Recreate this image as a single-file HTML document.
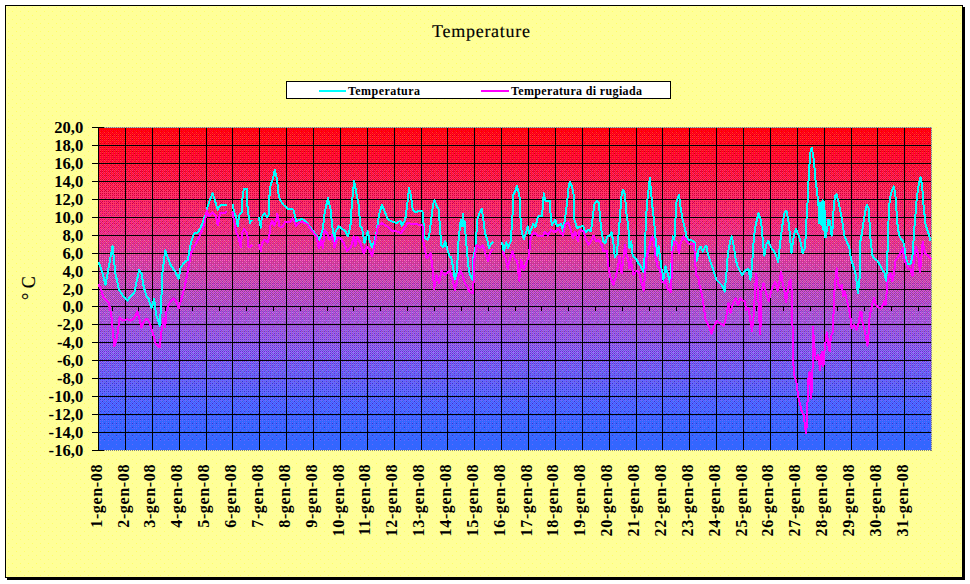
<!DOCTYPE html>
<html><head><meta charset="utf-8"><title>Temperature</title>
<style>html,body{margin:0;padding:0;background:#fff;}body{width:970px;height:584px;overflow:hidden;font-family:"Liberation Serif",serif;}svg{display:block;}text{font-family:"Liberation Serif",serif;fill:#000;}</style>
</head><body>
<svg width="970" height="584" viewBox="0 0 970 584" shape-rendering="crispEdges">
<defs>
<pattern id="dots" x="0" y="7" width="8" height="8" patternUnits="userSpaceOnUse"><rect x="0" y="0" width="1" height="1" fill="#ffff66"/><rect x="4" y="4" width="1" height="1" fill="#ffff66"/></pattern>
<linearGradient id="pg" x1="0" y1="0" x2="0" y2="1">
<stop offset="0.0" stop-color="rgb(255,0,0)"/>
<stop offset="0.003" stop-color="rgb(255,0,2)"/>
<stop offset="0.008" stop-color="rgb(255,3,20)"/>
<stop offset="0.02" stop-color="rgb(253,12,26)"/>
<stop offset="0.09" stop-color="rgb(250,13,48)"/>
<stop offset="0.19" stop-color="rgb(242,33,84)"/>
<stop offset="0.29" stop-color="rgb(237,43,117)"/>
<stop offset="0.4" stop-color="rgb(217,64,158)"/>
<stop offset="0.52" stop-color="rgb(181,77,191)"/>
<stop offset="0.59" stop-color="rgb(163,87,212)"/>
<stop offset="0.685" stop-color="rgb(133,89,230)"/>
<stop offset="0.796" stop-color="rgb(95,95,242)"/>
<stop offset="0.907" stop-color="rgb(64,99,252)"/>
<stop offset="1.0" stop-color="rgb(51,102,255)"/>
</linearGradient>
<pattern id="dither" x="99" y="128" width="8" height="322" patternUnits="userSpaceOnUse">
<path d="M0 0h8v1h-8zM0 1h8v1h-8zM0 2h1v1h-1zM2 2h1v1h-1zM4 2h1v1h-1zM6 2h1v1h-1zM1 3h3v1h-3zM5 3h3v1h-3zM0 4h1v1h-1zM2 4h1v1h-1zM4 4h1v1h-1zM6 4h1v1h-1zM1 5h1v1h-1zM3 5h1v1h-1zM5 5h1v1h-1zM7 5h1v1h-1zM0 6h1v1h-1zM2 6h1v1h-1zM4 6h1v1h-1zM6 6h1v1h-1zM3 7h1v1h-1zM7 7h1v1h-1zM0 8h1v1h-1zM4 8h1v1h-1zM1 9h1v1h-1zM3 9h1v1h-1zM5 9h1v1h-1zM7 9h1v1h-1zM2 10h1v1h-1zM4 10h1v1h-1zM6 10h1v1h-1zM3 11h1v1h-1zM5 11h1v1h-1zM7 11h1v1h-1zM0 12h1v1h-1zM4 12h1v1h-1zM1 13h1v1h-1zM3 13h1v1h-1zM5 13h1v1h-1zM7 13h1v1h-1zM2 14h1v1h-1zM6 14h1v1h-1zM3 15h1v1h-1zM7 15h1v1h-1zM1 17h1v1h-1zM3 17h1v1h-1zM5 17h1v1h-1zM7 17h1v1h-1zM3 19h1v1h-1zM7 19h1v1h-1zM3 21h1v1h-1zM5 21h1v1h-1zM3 23h1v1h-1zM7 23h1v1h-1zM7 25h1v1h-1z" fill="#ff0000"/>
<path d="M1 2h1v1h-1zM3 2h1v1h-1zM5 2h1v1h-1zM7 2h1v1h-1zM0 3h1v1h-1zM4 3h1v1h-1zM3 4h1v1h-1zM7 4h1v1h-1zM0 5h1v1h-1zM2 5h1v1h-1zM4 5h1v1h-1zM6 5h1v1h-1zM5 6h1v1h-1zM0 7h1v1h-1zM2 7h1v1h-1zM4 7h1v1h-1zM6 7h1v1h-1zM2 8h1v1h-1zM6 8h1v1h-1zM0 9h1v1h-1zM2 9h1v1h-1zM4 9h1v1h-1zM6 9h1v1h-1zM0 10h1v1h-1zM0 11h1v1h-1zM2 11h1v1h-1zM4 11h1v1h-1zM6 11h1v1h-1zM2 12h1v1h-1zM6 12h1v1h-1zM0 13h1v1h-1zM2 13h1v1h-1zM4 13h1v1h-1zM6 13h1v1h-1zM0 14h1v1h-1zM4 14h2v1h-2zM0 15h1v1h-1zM2 15h1v1h-1zM4 15h1v1h-1zM6 15h1v1h-1zM0 16h1v1h-1zM2 16h1v1h-1zM4 16h1v1h-1zM6 16h1v1h-1zM0 17h1v1h-1zM2 17h1v1h-1zM4 17h1v1h-1zM6 17h1v1h-1zM0 18h1v1h-1zM2 18h1v1h-1zM4 18h1v1h-1zM6 18h1v1h-1zM0 19h1v1h-1zM2 19h1v1h-1zM4 19h1v1h-1zM6 19h1v1h-1zM0 20h1v1h-1zM2 20h1v1h-1zM4 20h1v1h-1zM6 20h1v1h-1zM0 21h3v1h-3zM4 21h1v1h-1zM6 21h1v1h-1zM0 22h1v1h-1zM2 22h1v1h-1zM4 22h1v1h-1zM6 22h1v1h-1zM0 23h1v1h-1zM2 23h1v1h-1zM4 23h1v1h-1zM6 23h1v1h-1zM0 24h1v1h-1zM2 24h1v1h-1zM4 24h1v1h-1zM6 24h1v1h-1zM0 25h3v1h-3zM4 25h3v1h-3zM0 26h1v1h-1zM2 26h1v1h-1zM4 26h1v1h-1zM6 26h1v1h-1zM0 27h1v1h-1zM2 27h3v1h-3zM6 27h2v1h-2zM0 28h1v1h-1zM2 28h1v1h-1zM4 28h1v1h-1zM6 28h1v1h-1zM0 29h7v1h-7zM0 30h1v1h-1zM2 30h1v1h-1zM4 30h1v1h-1zM6 30h1v1h-1zM0 31h1v1h-1zM2 31h3v1h-3zM6 31h2v1h-2zM0 32h1v1h-1zM2 32h1v1h-1zM4 32h1v1h-1zM6 32h1v1h-1zM0 33h2v1h-2zM4 33h2v1h-2zM0 34h1v1h-1zM2 34h1v1h-1zM4 34h1v1h-1zM6 34h1v1h-1zM2 35h3v1h-3zM6 35h2v1h-2zM0 36h1v1h-1zM2 36h1v1h-1zM4 36h1v1h-1zM6 36h1v1h-1zM0 37h2v1h-2zM4 37h2v1h-2zM0 38h1v1h-1zM2 38h1v1h-1zM4 38h1v1h-1zM6 38h1v1h-1zM2 39h2v1h-2zM6 39h1v1h-1zM0 40h1v1h-1zM2 40h1v1h-1zM4 40h1v1h-1zM6 40h1v1h-1zM1 41h1v1h-1zM4 41h2v1h-2zM0 42h1v1h-1zM2 42h1v1h-1zM4 42h1v1h-1zM6 42h1v1h-1zM2 43h1v1h-1zM6 43h2v1h-2zM0 44h1v1h-1zM2 44h1v1h-1zM4 44h1v1h-1zM6 44h1v1h-1zM1 45h1v1h-1zM5 45h1v1h-1zM0 46h1v1h-1zM2 46h1v1h-1zM4 46h1v1h-1zM6 46h1v1h-1zM6 47h1v1h-1zM0 48h1v1h-1zM2 48h1v1h-1zM4 48h1v1h-1zM6 48h1v1h-1zM1 49h1v1h-1zM5 49h1v1h-1zM0 50h1v1h-1zM2 50h1v1h-1zM4 50h1v1h-1zM6 50h1v1h-1zM0 52h1v1h-1zM4 52h1v1h-1zM6 52h1v1h-1zM1 53h1v1h-1zM0 54h1v1h-1zM2 54h1v1h-1zM4 54h1v1h-1zM6 54h1v1h-1zM0 56h1v1h-1zM4 56h1v1h-1zM5 57h1v1h-1zM2 58h1v1h-1zM6 58h1v1h-1zM0 60h1v1h-1zM4 60h1v1h-1zM2 62h1v1h-1z" fill="#ff0033"/>
<path d="M1 4h1v1h-1zM5 4h1v1h-1zM1 6h1v1h-1zM3 6h1v1h-1zM7 6h1v1h-1zM1 8h1v1h-1zM3 8h1v1h-1zM5 8h1v1h-1zM7 8h1v1h-1zM1 10h1v1h-1zM3 10h1v1h-1zM5 10h1v1h-1zM7 10h1v1h-1zM1 12h1v1h-1zM3 12h1v1h-1zM5 12h1v1h-1zM7 12h1v1h-1zM1 14h1v1h-1zM3 14h1v1h-1zM7 14h1v1h-1zM1 16h1v1h-1zM3 16h1v1h-1zM5 16h1v1h-1zM7 16h1v1h-1zM1 18h1v1h-1zM3 18h1v1h-1zM5 18h1v1h-1zM7 18h1v1h-1zM1 20h1v1h-1zM3 20h1v1h-1zM5 20h1v1h-1zM7 20h1v1h-1zM1 22h1v1h-1zM3 22h1v1h-1zM5 22h1v1h-1zM7 22h1v1h-1zM1 24h1v1h-1zM3 24h1v1h-1zM5 24h1v1h-1zM7 24h1v1h-1zM1 26h1v1h-1zM3 26h1v1h-1zM5 26h1v1h-1zM7 26h1v1h-1zM1 28h1v1h-1zM3 28h1v1h-1zM5 28h1v1h-1zM7 28h1v1h-1zM1 30h1v1h-1zM3 30h1v1h-1zM5 30h1v1h-1zM7 30h1v1h-1zM1 32h1v1h-1zM3 32h1v1h-1zM7 32h1v1h-1zM2 33h1v1h-1zM6 33h1v1h-1zM1 34h1v1h-1zM3 34h1v1h-1zM5 34h1v1h-1zM7 34h1v1h-1zM0 35h1v1h-1zM3 36h1v1h-1zM7 36h1v1h-1zM2 37h1v1h-1zM6 37h1v1h-1zM1 38h1v1h-1zM5 38h1v1h-1zM0 39h1v1h-1zM4 39h1v1h-1zM0 41h1v1h-1zM2 41h1v1h-1zM6 41h1v1h-1zM0 43h1v1h-1zM4 43h1v1h-1zM0 45h1v1h-1zM4 45h1v1h-1zM6 45h1v1h-1zM0 47h1v1h-1zM2 47h1v1h-1zM4 49h1v1h-1zM2 51h1v1h-1zM6 51h1v1h-1zM2 52h1v1h-1zM2 56h1v1h-1zM4 58h1v1h-1z" fill="#ff3333"/>
<path d="M1 7h1v1h-1zM5 7h1v1h-1zM1 11h1v1h-1zM1 15h1v1h-1zM5 15h1v1h-1zM1 19h1v1h-1zM5 19h1v1h-1zM7 21h1v1h-1zM1 23h1v1h-1zM5 23h1v1h-1zM3 25h1v1h-1zM1 27h1v1h-1zM5 27h1v1h-1zM5 31h1v1h-1z" fill="#cc0000"/>
<path d="M7 29h1v1h-1zM1 31h1v1h-1zM3 33h1v1h-1zM7 33h1v1h-1zM1 35h1v1h-1zM5 35h1v1h-1zM3 37h1v1h-1zM7 37h1v1h-1zM1 39h1v1h-1zM5 39h1v1h-1zM7 39h1v1h-1zM3 41h1v1h-1zM7 41h1v1h-1zM1 43h1v1h-1zM3 43h1v1h-1zM5 43h1v1h-1zM3 45h1v1h-1zM7 45h1v1h-1zM1 47h1v1h-1zM3 47h1v1h-1zM5 47h1v1h-1zM7 47h1v1h-1zM3 49h1v1h-1zM7 49h1v1h-1zM1 51h1v1h-1zM3 51h1v1h-1zM5 51h1v1h-1zM7 51h1v1h-1zM3 53h1v1h-1zM5 53h1v1h-1zM7 53h1v1h-1zM1 55h1v1h-1zM3 55h1v1h-1zM5 55h1v1h-1zM7 55h1v1h-1zM1 57h1v1h-1zM3 57h1v1h-1zM7 57h1v1h-1zM1 59h1v1h-1zM3 59h1v1h-1zM5 59h1v1h-1zM7 59h1v1h-1zM1 61h1v1h-1zM3 61h1v1h-1zM5 61h1v1h-1zM7 61h1v1h-1zM6 62h1v1h-1zM1 63h1v1h-1zM3 63h1v1h-1zM5 63h1v1h-1zM7 63h1v1h-1zM1 65h1v1h-1zM3 65h1v1h-1zM5 65h1v1h-1zM7 65h1v1h-1zM1 67h1v1h-1zM3 67h1v1h-1zM5 67h1v1h-1zM7 67h1v1h-1zM3 69h1v1h-1zM7 69h1v1h-1zM1 71h1v1h-1zM5 71h1v1h-1zM7 71h1v1h-1zM3 73h1v1h-1zM1 75h1v1h-1zM5 75h1v1h-1z" fill="#cc0033"/>
<path d="M5 32h1v1h-1zM1 36h1v1h-1zM5 36h1v1h-1zM3 38h1v1h-1zM7 38h1v1h-1zM1 40h1v1h-1zM3 40h1v1h-1zM5 40h1v1h-1zM7 40h1v1h-1zM1 42h1v1h-1zM3 42h1v1h-1zM5 42h1v1h-1zM7 42h1v1h-1zM1 44h1v1h-1zM3 44h1v1h-1zM5 44h1v1h-1zM7 44h1v1h-1zM2 45h1v1h-1zM1 46h1v1h-1zM3 46h1v1h-1zM5 46h1v1h-1zM7 46h1v1h-1zM4 47h1v1h-1zM1 48h1v1h-1zM3 48h1v1h-1zM5 48h1v1h-1zM7 48h1v1h-1zM0 49h1v1h-1zM2 49h1v1h-1zM6 49h1v1h-1zM1 50h1v1h-1zM3 50h1v1h-1zM5 50h1v1h-1zM7 50h1v1h-1zM0 51h1v1h-1zM4 51h1v1h-1zM1 52h1v1h-1zM3 52h1v1h-1zM5 52h1v1h-1zM7 52h1v1h-1zM0 53h1v1h-1zM2 53h1v1h-1zM4 53h1v1h-1zM6 53h1v1h-1zM1 54h1v1h-1zM3 54h1v1h-1zM5 54h1v1h-1zM7 54h1v1h-1zM0 55h1v1h-1zM2 55h1v1h-1zM4 55h1v1h-1zM6 55h1v1h-1zM1 56h1v1h-1zM3 56h1v1h-1zM5 56h3v1h-3zM0 57h1v1h-1zM2 57h1v1h-1zM4 57h1v1h-1zM6 57h1v1h-1zM0 58h2v1h-2zM3 58h1v1h-1zM5 58h1v1h-1zM7 58h1v1h-1zM0 59h1v1h-1zM2 59h1v1h-1zM4 59h1v1h-1zM6 59h1v1h-1zM1 60h3v1h-3zM5 60h3v1h-3zM0 61h1v1h-1zM2 61h1v1h-1zM4 61h1v1h-1zM6 61h1v1h-1zM0 62h2v1h-2zM3 62h3v1h-3zM7 62h1v1h-1zM0 63h1v1h-1zM2 63h1v1h-1zM4 63h1v1h-1zM6 63h1v1h-1zM0 64h8v1h-8zM0 65h1v1h-1zM2 65h1v1h-1zM4 65h1v1h-1zM6 65h1v1h-1zM0 66h2v1h-2zM3 66h3v1h-3zM7 66h1v1h-1zM0 67h1v1h-1zM2 67h1v1h-1zM4 67h1v1h-1zM6 67h1v1h-1zM0 68h8v1h-8zM0 69h1v1h-1zM2 69h1v1h-1zM4 69h1v1h-1zM6 69h1v1h-1zM0 70h2v1h-2zM3 70h3v1h-3zM7 70h1v1h-1zM0 71h1v1h-1zM2 71h1v1h-1zM4 71h1v1h-1zM6 71h1v1h-1zM0 72h8v1h-8zM0 73h1v1h-1zM2 73h1v1h-1zM4 73h1v1h-1zM6 73h1v1h-1zM0 74h2v1h-2zM3 74h5v1h-5zM0 75h1v1h-1zM2 75h1v1h-1zM4 75h1v1h-1zM6 75h1v1h-1zM0 76h8v1h-8zM0 77h1v1h-1zM2 77h1v1h-1zM4 77h1v1h-1zM6 77h1v1h-1zM0 78h2v1h-2zM3 78h3v1h-3zM7 78h1v1h-1zM0 79h1v1h-1zM2 79h1v1h-1zM4 79h1v1h-1zM6 79h1v1h-1zM0 80h5v1h-5zM6 80h2v1h-2zM0 81h1v1h-1zM2 81h1v1h-1zM4 81h1v1h-1zM6 81h1v1h-1zM0 82h2v1h-2zM3 82h3v1h-3zM0 83h1v1h-1zM2 83h1v1h-1zM4 83h1v1h-1zM6 83h1v1h-1zM2 84h3v1h-3zM6 84h2v1h-2zM0 85h1v1h-1zM2 85h1v1h-1zM4 85h1v1h-1zM6 85h1v1h-1zM0 86h2v1h-2zM4 86h2v1h-2zM0 87h1v1h-1zM2 87h1v1h-1zM4 87h1v1h-1zM6 87h1v1h-1zM0 88h1v1h-1zM2 88h1v1h-1zM6 88h1v1h-1zM0 89h1v1h-1zM2 89h1v1h-1zM4 89h1v1h-1zM6 89h1v1h-1zM0 90h1v1h-1zM4 90h1v1h-1zM0 91h1v1h-1zM2 91h1v1h-1zM4 91h1v1h-1zM6 91h1v1h-1zM2 92h1v1h-1zM4 92h1v1h-1zM6 92h1v1h-1zM0 93h1v1h-1zM4 93h1v1h-1zM6 93h1v1h-1zM0 94h1v1h-1zM4 94h1v1h-1zM0 95h1v1h-1zM2 95h1v1h-1zM6 95h1v1h-1zM2 96h1v1h-1zM6 96h1v1h-1zM4 97h1v1h-1zM0 98h1v1h-1zM2 99h1v1h-1zM6 99h1v1h-1zM2 100h1v1h-1zM6 100h1v1h-1z" fill="#ff3366"/>
<path d="M2 66h1v1h-1zM6 66h1v1h-1zM2 70h1v1h-1z" fill="#ff0066"/>
<path d="M1 69h1v1h-1zM5 69h1v1h-1zM6 70h1v1h-1zM3 71h1v1h-1zM1 73h1v1h-1zM5 73h1v1h-1zM7 73h1v1h-1zM2 74h1v1h-1zM3 75h1v1h-1zM7 75h1v1h-1zM1 77h1v1h-1zM3 77h1v1h-1zM5 77h1v1h-1zM7 77h1v1h-1zM1 79h1v1h-1zM3 79h1v1h-1zM5 79h1v1h-1zM7 79h1v1h-1zM1 81h1v1h-1zM3 81h1v1h-1zM7 81h1v1h-1zM1 83h1v1h-1zM3 83h1v1h-1zM5 83h1v1h-1zM7 83h1v1h-1zM3 85h1v1h-1zM5 85h1v1h-1zM7 85h1v1h-1zM1 87h1v1h-1zM3 87h1v1h-1zM5 87h1v1h-1zM7 87h1v1h-1zM3 89h1v1h-1zM7 89h1v1h-1zM1 91h1v1h-1zM3 91h1v1h-1zM5 91h1v1h-1zM3 93h1v1h-1zM7 93h1v1h-1zM1 95h1v1h-1zM5 95h1v1h-1zM7 95h1v1h-1zM3 97h1v1h-1zM1 99h1v1h-1zM5 99h1v1h-1zM1 103h1v1h-1zM5 103h1v1h-1z" fill="#cc0066"/>
<path d="M2 78h1v1h-1zM6 78h1v1h-1zM5 81h1v1h-1zM2 82h1v1h-1zM6 82h1v1h-1zM0 84h1v1h-1zM1 85h1v1h-1zM2 86h1v1h-1zM6 86h1v1h-1zM4 88h1v1h-1zM1 89h1v1h-1zM5 89h1v1h-1zM2 90h1v1h-1zM6 90h1v1h-1zM7 91h1v1h-1zM0 92h1v1h-1zM1 93h1v1h-1zM5 93h1v1h-1zM2 94h1v1h-1zM6 94h1v1h-1zM3 95h1v1h-1zM0 96h1v1h-1zM4 96h1v1h-1zM1 97h1v1h-1zM5 97h1v1h-1zM7 97h1v1h-1zM2 98h1v1h-1zM4 98h1v1h-1zM6 98h1v1h-1zM3 99h1v1h-1zM7 99h1v1h-1zM0 100h1v1h-1zM4 100h1v1h-1zM1 101h1v1h-1zM3 101h1v1h-1zM5 101h1v1h-1zM7 101h1v1h-1zM0 102h1v1h-1zM2 102h1v1h-1zM4 102h1v1h-1zM6 102h1v1h-1zM3 103h1v1h-1zM7 103h1v1h-1zM0 104h1v1h-1zM4 104h1v1h-1zM1 105h1v1h-1zM3 105h1v1h-1zM5 105h1v1h-1zM7 105h1v1h-1zM2 106h1v1h-1zM4 106h1v1h-1zM6 106h1v1h-1zM1 107h1v1h-1zM3 107h1v1h-1zM5 107h1v1h-1zM7 107h1v1h-1zM0 108h1v1h-1zM4 108h1v1h-1zM1 109h1v1h-1zM3 109h1v1h-1zM5 109h1v1h-1zM7 109h1v1h-1zM2 110h1v1h-1zM6 110h1v1h-1zM1 111h1v1h-1zM3 111h1v1h-1zM5 111h1v1h-1zM7 111h1v1h-1zM1 113h1v1h-1zM3 113h1v1h-1zM5 113h1v1h-1zM7 113h1v1h-1zM1 115h1v1h-1zM3 115h1v1h-1zM5 115h1v1h-1zM7 115h1v1h-1zM3 117h1v1h-1zM7 117h1v1h-1zM1 119h1v1h-1zM5 119h1v1h-1zM1 123h1v1h-1z" fill="#cc3366"/>
<path d="M5 80h1v1h-1zM7 82h1v1h-1zM1 84h1v1h-1zM5 84h1v1h-1zM3 86h1v1h-1zM7 86h1v1h-1zM1 88h1v1h-1zM3 88h1v1h-1zM5 88h1v1h-1zM7 88h1v1h-1zM1 90h1v1h-1zM3 90h1v1h-1zM5 90h1v1h-1zM7 90h1v1h-1zM1 92h1v1h-1zM3 92h1v1h-1zM5 92h1v1h-1zM7 92h1v1h-1zM2 93h1v1h-1zM1 94h1v1h-1zM3 94h1v1h-1zM5 94h1v1h-1zM7 94h1v1h-1zM4 95h1v1h-1zM1 96h1v1h-1zM3 96h1v1h-1zM5 96h1v1h-1zM7 96h1v1h-1zM0 97h1v1h-1zM2 97h1v1h-1zM6 97h1v1h-1zM1 98h1v1h-1zM3 98h1v1h-1zM5 98h1v1h-1zM7 98h1v1h-1zM0 99h1v1h-1zM4 99h1v1h-1zM1 100h1v1h-1zM3 100h1v1h-1zM5 100h1v1h-1zM7 100h1v1h-1zM0 101h1v1h-1zM2 101h1v1h-1zM4 101h1v1h-1zM6 101h1v1h-1zM1 102h1v1h-1zM3 102h1v1h-1zM5 102h1v1h-1zM7 102h1v1h-1zM0 103h1v1h-1zM2 103h1v1h-1zM4 103h1v1h-1zM6 103h1v1h-1zM1 104h1v1h-1zM3 104h1v1h-1zM5 104h3v1h-3zM0 105h1v1h-1zM2 105h1v1h-1zM4 105h1v1h-1zM6 105h1v1h-1zM1 106h1v1h-1zM3 106h1v1h-1zM5 106h1v1h-1zM7 106h1v1h-1zM0 107h1v1h-1zM2 107h1v1h-1zM4 107h1v1h-1zM6 107h1v1h-1zM1 108h1v1h-1zM3 108h1v1h-1zM5 108h1v1h-1zM7 108h1v1h-1zM0 109h1v1h-1zM2 109h1v1h-1zM4 109h1v1h-1zM6 109h1v1h-1zM1 110h1v1h-1zM3 110h1v1h-1zM5 110h1v1h-1zM7 110h1v1h-1zM0 111h1v1h-1zM4 111h1v1h-1zM3 112h1v1h-1zM7 112h1v1h-1zM0 113h1v1h-1zM2 113h1v1h-1zM4 113h1v1h-1zM6 113h1v1h-1zM1 114h1v1h-1zM3 114h1v1h-1zM5 114h1v1h-1zM0 115h1v1h-1zM4 115h1v1h-1zM3 116h1v1h-1zM7 116h1v1h-1zM2 117h1v1h-1zM6 117h1v1h-1zM1 118h1v1h-1zM5 118h1v1h-1zM4 119h1v1h-1zM3 120h1v1h-1zM2 121h1v1h-1zM6 121h1v1h-1zM1 122h1v1h-1zM5 122h1v1h-1zM2 125h1v1h-1zM5 126h1v1h-1z" fill="#ff3399"/>
<path d="M2 104h1v1h-1zM0 106h1v1h-1zM2 108h1v1h-1zM6 108h1v1h-1zM0 110h1v1h-1zM4 110h1v1h-1zM2 111h1v1h-1zM6 111h1v1h-1zM0 112h1v1h-1zM2 112h1v1h-1zM4 112h1v1h-1zM6 112h1v1h-1zM0 114h1v1h-1zM2 114h1v1h-1zM4 114h1v1h-1zM6 114h1v1h-1zM2 115h1v1h-1zM6 115h1v1h-1zM0 116h1v1h-1zM2 116h1v1h-1zM4 116h1v1h-1zM6 116h1v1h-1zM0 117h2v1h-2zM4 117h2v1h-2zM0 118h1v1h-1zM2 118h1v1h-1zM4 118h1v1h-1zM6 118h1v1h-1zM0 119h1v1h-1zM2 119h2v1h-2zM6 119h2v1h-2zM0 120h1v1h-1zM2 120h1v1h-1zM4 120h1v1h-1zM6 120h1v1h-1zM0 121h2v1h-2zM3 121h3v1h-3zM7 121h1v1h-1zM0 122h1v1h-1zM2 122h1v1h-1zM4 122h1v1h-1zM6 122h1v1h-1zM0 123h1v1h-1zM2 123h6v1h-6zM0 124h1v1h-1zM2 124h1v1h-1zM4 124h1v1h-1zM6 124h1v1h-1zM0 125h2v1h-2zM3 125h5v1h-5zM0 126h1v1h-1zM2 126h1v1h-1zM4 126h1v1h-1zM6 126h1v1h-1zM0 127h8v1h-8zM0 128h1v1h-1zM2 128h1v1h-1zM4 128h1v1h-1zM6 128h1v1h-1zM0 129h6v1h-6zM7 129h1v1h-1zM0 130h1v1h-1zM2 130h1v1h-1zM4 130h1v1h-1zM6 130h1v1h-1zM0 131h8v1h-8zM0 132h1v1h-1zM2 132h1v1h-1zM4 132h1v1h-1zM6 132h1v1h-1zM0 133h2v1h-2zM3 133h5v1h-5zM0 134h1v1h-1zM2 134h1v1h-1zM4 134h1v1h-1zM6 134h1v1h-1zM0 135h8v1h-8zM0 136h1v1h-1zM2 136h1v1h-1zM4 136h1v1h-1zM6 136h1v1h-1zM0 137h2v1h-2zM3 137h3v1h-3zM7 137h1v1h-1zM0 138h1v1h-1zM2 138h1v1h-1zM4 138h1v1h-1zM6 138h1v1h-1zM1 139h7v1h-7zM0 140h1v1h-1zM2 140h1v1h-1zM4 140h1v1h-1zM6 140h1v1h-1zM0 141h2v1h-2zM3 141h3v1h-3zM7 141h1v1h-1zM0 142h1v1h-1zM2 142h1v1h-1zM4 142h1v1h-1zM6 142h1v1h-1zM0 143h4v1h-4zM6 143h2v1h-2zM0 144h1v1h-1zM2 144h1v1h-1zM4 144h1v1h-1zM6 144h1v1h-1zM0 145h2v1h-2zM3 145h3v1h-3zM7 145h1v1h-1zM0 146h1v1h-1zM2 146h1v1h-1zM4 146h1v1h-1zM6 146h1v1h-1zM2 147h2v1h-2zM6 147h2v1h-2zM0 148h1v1h-1zM2 148h1v1h-1zM4 148h1v1h-1zM6 148h1v1h-1zM1 149h1v1h-1zM5 149h1v1h-1zM0 150h1v1h-1zM2 150h1v1h-1zM4 150h1v1h-1zM6 150h1v1h-1zM3 151h1v1h-1zM6 151h1v1h-1zM0 152h1v1h-1zM2 152h1v1h-1zM4 152h1v1h-1zM6 152h1v1h-1zM1 153h1v1h-1zM5 153h1v1h-1zM0 154h1v1h-1zM2 154h1v1h-1zM4 154h1v1h-1zM6 154h1v1h-1zM0 156h1v1h-1zM4 156h1v1h-1zM0 158h1v1h-1zM2 158h1v1h-1zM0 160h1v1h-1zM4 160h1v1h-1z" fill="#cc3399"/>
<path d="M1 112h1v1h-1zM5 112h1v1h-1zM7 114h1v1h-1zM1 116h1v1h-1zM5 116h1v1h-1zM3 118h1v1h-1zM7 118h1v1h-1zM1 120h1v1h-1zM5 120h1v1h-1zM7 120h1v1h-1zM3 122h1v1h-1zM7 122h1v1h-1zM1 124h1v1h-1zM3 124h1v1h-1zM5 124h1v1h-1zM7 124h1v1h-1zM1 126h1v1h-1zM3 126h1v1h-1zM7 126h1v1h-1zM3 128h1v1h-1zM7 128h1v1h-1zM5 130h1v1h-1zM7 132h1v1h-1z" fill="#ff6699"/>
<path d="M1 128h1v1h-1zM5 128h1v1h-1zM3 130h1v1h-1zM7 130h1v1h-1zM1 132h1v1h-1zM3 132h1v1h-1zM5 132h1v1h-1zM3 134h1v1h-1zM7 134h1v1h-1zM1 136h1v1h-1zM5 136h1v1h-1zM7 138h1v1h-1zM1 140h1v1h-1z" fill="#ff66cc"/>
<path d="M6 129h1v1h-1zM1 130h1v1h-1zM2 133h1v1h-1zM1 134h1v1h-1zM5 134h1v1h-1zM2 137h1v1h-1zM6 137h1v1h-1zM0 139h1v1h-1z" fill="#cc6699"/>
<path d="M3 136h1v1h-1zM7 136h1v1h-1zM1 138h1v1h-1zM3 138h1v1h-1zM5 138h1v1h-1zM3 140h1v1h-1zM5 140h1v1h-1zM7 140h1v1h-1zM2 141h1v1h-1zM6 141h1v1h-1zM1 142h1v1h-1zM3 142h1v1h-1zM5 142h1v1h-1zM7 142h1v1h-1zM4 143h1v1h-1zM1 144h1v1h-1zM3 144h1v1h-1zM5 144h1v1h-1zM7 144h1v1h-1zM2 145h1v1h-1zM6 145h1v1h-1zM1 146h1v1h-1zM3 146h1v1h-1zM5 146h1v1h-1zM7 146h1v1h-1zM0 147h1v1h-1zM4 147h1v1h-1zM1 148h1v1h-1zM3 148h1v1h-1zM5 148h1v1h-1zM7 148h1v1h-1zM2 149h1v1h-1zM6 149h1v1h-1zM1 150h1v1h-1zM3 150h1v1h-1zM5 150h1v1h-1zM7 150h1v1h-1zM0 151h1v1h-1zM4 151h1v1h-1zM1 152h1v1h-1zM3 152h1v1h-1zM5 152h1v1h-1zM7 152h1v1h-1zM0 153h1v1h-1zM2 153h1v1h-1zM4 153h1v1h-1zM6 153h1v1h-1zM1 154h1v1h-1zM3 154h1v1h-1zM5 154h1v1h-1zM7 154h1v1h-1zM0 155h1v1h-1zM4 155h1v1h-1zM1 156h1v1h-1zM3 156h1v1h-1zM5 156h1v1h-1zM7 156h1v1h-1zM0 157h1v1h-1zM2 157h1v1h-1zM4 157h1v1h-1zM6 157h1v1h-1zM1 158h1v1h-1zM3 158h1v1h-1zM5 158h1v1h-1zM7 158h1v1h-1zM0 159h1v1h-1zM4 159h1v1h-1zM1 160h1v1h-1zM3 160h1v1h-1zM5 160h1v1h-1zM7 160h1v1h-1zM0 161h1v1h-1zM2 161h1v1h-1zM4 161h1v1h-1zM6 161h1v1h-1zM1 162h1v1h-1zM3 162h1v1h-1zM5 162h1v1h-1zM7 162h1v1h-1zM0 163h1v1h-1zM2 163h1v1h-1zM4 163h1v1h-1zM6 163h1v1h-1zM1 164h1v1h-1zM3 164h1v1h-1zM5 164h1v1h-1zM7 164h1v1h-1zM0 165h1v1h-1zM2 165h1v1h-1zM4 165h1v1h-1zM6 165h1v1h-1zM1 166h1v1h-1zM3 166h1v1h-1zM5 166h1v1h-1zM7 166h1v1h-1zM0 167h1v1h-1zM2 167h1v1h-1zM4 167h1v1h-1zM6 167h1v1h-1zM1 168h1v1h-1zM3 168h1v1h-1zM5 168h3v1h-3zM0 169h1v1h-1zM2 169h1v1h-1zM4 169h1v1h-1zM6 169h1v1h-1zM1 170h1v1h-1zM3 170h1v1h-1zM5 170h1v1h-1zM7 170h1v1h-1zM0 171h1v1h-1zM2 171h1v1h-1zM4 171h1v1h-1zM6 171h1v1h-1zM1 172h1v1h-1zM3 172h1v1h-1zM5 172h1v1h-1zM7 172h1v1h-1zM0 173h1v1h-1zM2 173h1v1h-1zM4 173h1v1h-1zM6 173h1v1h-1zM1 174h1v1h-1zM3 174h1v1h-1zM5 174h1v1h-1zM7 174h1v1h-1zM0 175h1v1h-1zM4 175h1v1h-1zM1 176h1v1h-1zM3 176h1v1h-1zM5 176h1v1h-1zM7 176h1v1h-1zM0 177h1v1h-1zM2 177h1v1h-1zM6 177h1v1h-1zM1 178h1v1h-1zM3 178h1v1h-1zM5 178h1v1h-1zM7 178h1v1h-1zM0 179h1v1h-1zM4 179h1v1h-1zM1 180h1v1h-1zM3 180h1v1h-1zM5 180h1v1h-1zM7 180h1v1h-1zM2 181h1v1h-1zM6 181h1v1h-1zM1 182h1v1h-1zM3 182h1v1h-1zM5 182h1v1h-1zM7 182h1v1h-1zM3 184h1v1h-1zM7 184h1v1h-1zM6 185h1v1h-1zM1 186h1v1h-1zM3 186h1v1h-1zM5 186h1v1h-1zM3 188h1v1h-1zM7 188h1v1h-1z" fill="#cc66cc"/>
<path d="M5 143h1v1h-1zM1 147h1v1h-1zM5 147h1v1h-1zM3 149h1v1h-1zM7 149h1v1h-1zM1 151h1v1h-1zM5 151h1v1h-1zM7 151h1v1h-1zM3 153h1v1h-1zM7 153h1v1h-1zM1 155h1v1h-1zM3 155h1v1h-1zM5 155h1v1h-1zM7 155h1v1h-1zM1 157h1v1h-1zM3 157h1v1h-1zM5 157h1v1h-1zM7 157h1v1h-1zM6 158h1v1h-1zM1 159h1v1h-1zM3 159h1v1h-1zM5 159h1v1h-1zM7 159h1v1h-1zM1 161h1v1h-1zM3 161h1v1h-1zM5 161h1v1h-1zM7 161h1v1h-1zM2 162h1v1h-1zM6 162h1v1h-1zM1 163h1v1h-1zM3 163h1v1h-1zM5 163h1v1h-1zM7 163h1v1h-1zM1 165h1v1h-1zM3 165h1v1h-1zM5 165h1v1h-1zM7 165h1v1h-1zM6 166h1v1h-1zM1 167h1v1h-1zM3 167h1v1h-1zM5 167h1v1h-1zM7 167h1v1h-1zM1 169h1v1h-1zM3 169h1v1h-1zM7 169h1v1h-1zM1 171h1v1h-1zM3 171h1v1h-1zM5 171h1v1h-1zM7 171h1v1h-1zM3 173h1v1h-1zM7 173h1v1h-1zM1 175h1v1h-1zM5 175h1v1h-1zM1 179h1v1h-1z" fill="#993399"/>
<path d="M0 149h1v1h-1zM4 149h1v1h-1zM2 151h1v1h-1zM2 155h1v1h-1zM6 155h1v1h-1zM2 156h1v1h-1zM6 156h1v1h-1zM4 158h1v1h-1zM2 159h1v1h-1zM6 159h1v1h-1zM2 160h1v1h-1zM6 160h1v1h-1zM0 162h1v1h-1zM4 162h1v1h-1zM2 164h1v1h-1zM6 164h1v1h-1z" fill="#cc33cc"/>
<path d="M0 164h1v1h-1zM4 164h1v1h-1zM0 166h1v1h-1zM2 166h1v1h-1zM4 166h1v1h-1zM0 168h1v1h-1zM2 168h1v1h-1zM4 168h1v1h-1zM5 169h1v1h-1zM0 170h1v1h-1zM2 170h1v1h-1zM4 170h1v1h-1zM6 170h1v1h-1zM0 172h1v1h-1zM4 172h1v1h-1zM6 172h1v1h-1zM1 173h1v1h-1zM5 173h1v1h-1zM0 174h1v1h-1zM2 174h1v1h-1zM4 174h1v1h-1zM6 174h1v1h-1zM3 175h1v1h-1zM7 175h1v1h-1zM0 176h1v1h-1zM4 176h1v1h-1zM1 177h1v1h-1zM3 177h1v1h-1zM5 177h1v1h-1zM7 177h1v1h-1zM2 178h1v1h-1zM6 178h1v1h-1zM3 179h1v1h-1zM5 179h1v1h-1zM7 179h1v1h-1zM0 180h1v1h-1zM4 180h1v1h-1zM1 181h1v1h-1zM3 181h1v1h-1zM5 181h1v1h-1zM7 181h1v1h-1zM2 182h1v1h-1zM6 182h1v1h-1zM1 183h1v1h-1zM3 183h1v1h-1zM5 183h1v1h-1zM7 183h1v1h-1zM4 184h1v1h-1zM1 185h1v1h-1zM3 185h1v1h-1zM5 185h1v1h-1zM7 185h1v1h-1zM2 186h1v1h-1zM6 186h1v1h-1zM1 187h1v1h-1zM3 187h1v1h-1zM5 187h1v1h-1zM7 187h1v1h-1zM1 189h1v1h-1zM3 189h1v1h-1zM5 189h1v1h-1zM7 189h1v1h-1zM2 190h1v1h-1zM6 190h1v1h-1zM1 191h1v1h-1zM3 191h1v1h-1zM5 191h1v1h-1zM7 191h1v1h-1zM1 193h1v1h-1zM3 193h1v1h-1zM5 193h1v1h-1zM7 193h1v1h-1zM2 194h1v1h-1zM1 195h1v1h-1zM3 195h1v1h-1zM5 195h1v1h-1zM7 195h1v1h-1zM1 197h1v1h-1zM3 197h1v1h-1zM5 197h1v1h-1zM7 197h1v1h-1zM6 198h1v1h-1zM1 199h1v1h-1zM3 199h1v1h-1zM5 199h1v1h-1zM7 199h1v1h-1zM1 201h1v1h-1zM3 201h1v1h-1zM5 201h1v1h-1zM7 201h1v1h-1zM2 202h1v1h-1zM3 203h1v1h-1zM7 203h1v1h-1zM1 205h1v1h-1zM5 205h1v1h-1zM6 206h1v1h-1zM3 207h1v1h-1zM1 209h1v1h-1zM5 209h1v1h-1z" fill="#9933cc"/>
<path d="M2 172h1v1h-1zM2 175h1v1h-1zM6 175h1v1h-1zM2 176h1v1h-1zM6 176h1v1h-1zM4 177h1v1h-1zM0 178h1v1h-1zM4 178h1v1h-1zM2 179h1v1h-1zM6 179h1v1h-1zM2 180h1v1h-1zM6 180h1v1h-1zM0 181h1v1h-1zM4 181h1v1h-1zM0 182h1v1h-1zM4 182h1v1h-1zM0 183h1v1h-1zM2 183h1v1h-1zM4 183h1v1h-1zM6 183h1v1h-1zM0 184h1v1h-1zM2 184h1v1h-1zM6 184h1v1h-1zM0 185h1v1h-1zM2 185h1v1h-1zM4 185h1v1h-1zM0 186h1v1h-1zM4 186h1v1h-1zM0 187h1v1h-1zM2 187h1v1h-1zM4 187h1v1h-1zM6 187h1v1h-1zM0 188h1v1h-1zM2 188h1v1h-1zM4 188h1v1h-1zM6 188h1v1h-1zM0 189h1v1h-1zM2 189h1v1h-1zM4 189h1v1h-1zM6 189h1v1h-1zM0 190h2v1h-2zM4 190h2v1h-2zM0 191h1v1h-1zM2 191h1v1h-1zM4 191h1v1h-1zM6 191h1v1h-1zM0 192h1v1h-1zM2 192h1v1h-1zM4 192h1v1h-1zM6 192h1v1h-1zM0 193h1v1h-1zM2 193h1v1h-1zM4 193h1v1h-1zM6 193h1v1h-1zM0 194h2v1h-2zM4 194h1v1h-1zM6 194h1v1h-1zM0 195h1v1h-1zM2 195h1v1h-1zM4 195h1v1h-1zM6 195h1v1h-1zM0 196h1v1h-1zM2 196h1v1h-1zM4 196h1v1h-1zM6 196h1v1h-1zM0 197h1v1h-1zM2 197h1v1h-1zM4 197h1v1h-1zM6 197h1v1h-1zM0 198h1v1h-1zM2 198h1v1h-1zM4 198h1v1h-1zM0 199h1v1h-1zM2 199h1v1h-1zM4 199h1v1h-1zM6 199h1v1h-1zM0 200h1v1h-1zM2 200h1v1h-1zM4 200h1v1h-1zM6 200h1v1h-1zM0 201h1v1h-1zM4 201h1v1h-1zM0 202h1v1h-1zM4 202h1v1h-1zM6 202h1v1h-1zM0 203h1v1h-1zM2 203h1v1h-1zM4 203h1v1h-1zM6 203h1v1h-1zM0 204h1v1h-1zM2 204h1v1h-1zM4 204h1v1h-1zM6 204h1v1h-1zM0 205h1v1h-1zM4 205h1v1h-1zM0 206h1v1h-1zM2 206h1v1h-1zM4 206h1v1h-1zM0 207h1v1h-1zM2 207h1v1h-1zM6 207h1v1h-1zM0 208h1v1h-1zM2 208h1v1h-1zM4 208h1v1h-1zM6 208h1v1h-1zM4 209h1v1h-1zM0 210h1v1h-1zM2 210h1v1h-1zM4 210h1v1h-1zM6 210h1v1h-1zM2 211h1v1h-1zM6 211h1v1h-1zM0 212h1v1h-1zM2 212h1v1h-1zM4 212h1v1h-1zM6 212h1v1h-1zM0 214h1v1h-1zM2 214h1v1h-1zM4 214h1v1h-1zM2 215h1v1h-1zM6 215h1v1h-1zM0 216h1v1h-1zM2 216h1v1h-1zM4 216h1v1h-1zM6 216h1v1h-1zM0 218h1v1h-1zM4 218h1v1h-1zM2 220h1v1h-1zM6 220h1v1h-1z" fill="#9966cc"/>
<path d="M1 184h1v1h-1zM5 184h1v1h-1zM7 186h1v1h-1zM1 188h1v1h-1zM5 188h1v1h-1zM3 190h1v1h-1zM7 190h1v1h-1zM1 192h1v1h-1zM5 192h1v1h-1zM7 192h1v1h-1zM3 194h1v1h-1zM7 194h1v1h-1zM1 196h1v1h-1zM5 196h1v1h-1z" fill="#cc66ff"/>
<path d="M3 192h1v1h-1zM5 194h1v1h-1zM3 196h1v1h-1zM7 196h1v1h-1zM1 198h1v1h-1zM3 198h1v1h-1zM5 198h1v1h-1zM7 198h1v1h-1zM1 200h1v1h-1zM3 200h1v1h-1zM5 200h1v1h-1zM7 200h1v1h-1zM2 201h1v1h-1zM6 201h1v1h-1zM1 202h1v1h-1zM3 202h1v1h-1zM5 202h1v1h-1zM7 202h1v1h-1zM1 204h1v1h-1zM3 204h1v1h-1zM5 204h1v1h-1zM7 204h1v1h-1zM2 205h1v1h-1zM6 205h1v1h-1zM1 206h1v1h-1zM3 206h1v1h-1zM5 206h1v1h-1zM7 206h1v1h-1zM4 207h1v1h-1zM1 208h1v1h-1zM3 208h1v1h-1zM5 208h1v1h-1zM7 208h1v1h-1zM0 209h1v1h-1zM2 209h1v1h-1zM6 209h1v1h-1zM1 210h1v1h-1zM3 210h1v1h-1zM5 210h1v1h-1zM7 210h1v1h-1zM0 211h1v1h-1zM4 211h1v1h-1zM1 212h1v1h-1zM3 212h1v1h-1zM5 212h1v1h-1zM7 212h1v1h-1zM0 213h1v1h-1zM2 213h1v1h-1zM4 213h1v1h-1zM6 213h1v1h-1zM1 214h1v1h-1zM3 214h1v1h-1zM5 214h1v1h-1zM7 214h1v1h-1zM0 215h1v1h-1zM4 215h1v1h-1zM1 216h1v1h-1zM3 216h1v1h-1zM5 216h1v1h-1zM7 216h1v1h-1zM0 217h1v1h-1zM2 217h1v1h-1zM4 217h1v1h-1zM6 217h1v1h-1zM1 218h1v1h-1zM3 218h1v1h-1zM5 218h1v1h-1zM7 218h1v1h-1zM0 219h1v1h-1zM2 219h1v1h-1zM4 219h1v1h-1zM6 219h1v1h-1zM1 220h1v1h-1zM3 220h1v1h-1zM5 220h1v1h-1zM7 220h1v1h-1zM0 221h1v1h-1zM2 221h1v1h-1zM4 221h1v1h-1zM6 221h1v1h-1zM1 222h1v1h-1zM3 222h1v1h-1zM5 222h1v1h-1zM7 222h1v1h-1zM0 223h1v1h-1zM2 223h1v1h-1zM4 223h1v1h-1zM6 223h1v1h-1zM1 224h1v1h-1zM3 224h1v1h-1zM5 224h3v1h-3zM0 225h1v1h-1zM2 225h1v1h-1zM4 225h1v1h-1zM6 225h1v1h-1zM1 226h1v1h-1zM3 226h1v1h-1zM5 226h1v1h-1zM7 226h1v1h-1zM0 227h1v1h-1zM4 227h1v1h-1zM6 227h1v1h-1zM1 228h1v1h-1zM3 228h1v1h-1zM5 228h1v1h-1zM7 228h1v1h-1zM2 229h1v1h-1zM4 229h1v1h-1zM6 229h1v1h-1zM1 230h1v1h-1zM3 230h1v1h-1zM5 230h1v1h-1zM7 230h1v1h-1zM0 231h1v1h-1zM4 231h1v1h-1zM1 232h1v1h-1zM3 232h1v1h-1zM5 232h1v1h-1zM7 232h1v1h-1zM2 233h1v1h-1zM6 233h1v1h-1zM1 234h1v1h-1zM3 234h1v1h-1zM5 234h1v1h-1zM7 234h1v1h-1zM1 236h1v1h-1zM3 236h1v1h-1zM5 236h1v1h-1zM7 236h1v1h-1zM1 238h1v1h-1zM3 238h1v1h-1zM7 238h1v1h-1zM1 240h1v1h-1zM3 240h1v1h-1zM5 240h1v1h-1zM7 240h1v1h-1zM3 242h1v1h-1zM7 242h1v1h-1zM1 244h1v1h-1zM5 244h1v1h-1zM5 248h1v1h-1z" fill="#9966ff"/>
<path d="M1 203h1v1h-1zM5 203h1v1h-1zM3 205h1v1h-1zM7 205h1v1h-1zM1 207h1v1h-1zM5 207h1v1h-1zM7 207h1v1h-1zM3 209h1v1h-1zM7 209h1v1h-1zM1 211h1v1h-1zM3 211h1v1h-1zM5 211h1v1h-1zM7 211h1v1h-1zM1 213h1v1h-1zM3 213h1v1h-1zM5 213h1v1h-1zM7 213h1v1h-1zM6 214h1v1h-1zM1 215h1v1h-1zM3 215h1v1h-1zM5 215h1v1h-1zM7 215h1v1h-1zM1 217h1v1h-1zM3 217h1v1h-1zM5 217h1v1h-1zM7 217h1v1h-1zM1 219h1v1h-1zM3 219h1v1h-1zM5 219h1v1h-1zM7 219h1v1h-1zM1 221h1v1h-1zM3 221h1v1h-1zM5 221h1v1h-1zM7 221h1v1h-1zM1 223h1v1h-1zM3 223h1v1h-1zM5 223h1v1h-1zM7 223h1v1h-1zM1 225h1v1h-1zM3 225h1v1h-1zM7 225h1v1h-1zM1 227h1v1h-1zM3 227h1v1h-1zM5 227h1v1h-1zM7 227h1v1h-1zM3 229h1v1h-1zM5 229h1v1h-1zM7 229h1v1h-1zM1 231h1v1h-1zM3 231h1v1h-1zM5 231h1v1h-1zM7 231h1v1h-1zM1 233h1v1h-1zM3 233h1v1h-1zM7 233h1v1h-1zM1 235h1v1h-1zM3 235h1v1h-1zM5 235h1v1h-1zM7 235h1v1h-1zM3 237h1v1h-1zM5 237h1v1h-1zM7 237h1v1h-1zM1 239h1v1h-1zM3 239h1v1h-1zM5 239h1v1h-1zM7 239h1v1h-1zM3 241h1v1h-1zM7 241h1v1h-1zM1 243h1v1h-1zM3 243h1v1h-1zM5 243h1v1h-1zM3 245h1v1h-1zM7 245h1v1h-1zM1 247h1v1h-1zM3 247h1v1h-1zM5 247h1v1h-1zM7 247h1v1h-1zM3 249h1v1h-1zM7 249h1v1h-1zM3 251h1v1h-1zM5 251h1v1h-1zM3 253h1v1h-1zM7 255h1v1h-1z" fill="#6633cc"/>
<path d="M2 218h1v1h-1zM6 218h1v1h-1zM0 220h1v1h-1zM4 220h1v1h-1zM0 222h1v1h-1zM2 222h1v1h-1zM4 222h1v1h-1zM6 222h1v1h-1zM0 224h1v1h-1zM2 224h1v1h-1zM4 224h1v1h-1zM5 225h1v1h-1zM0 226h1v1h-1zM2 226h1v1h-1zM4 226h1v1h-1zM6 226h1v1h-1zM0 228h1v1h-1zM4 228h1v1h-1zM1 229h1v1h-1zM0 230h1v1h-1zM2 230h1v1h-1zM4 230h1v1h-1zM6 230h1v1h-1zM0 232h1v1h-1zM4 232h1v1h-1zM5 233h1v1h-1zM2 234h1v1h-1zM6 234h1v1h-1zM0 236h1v1h-1zM4 236h1v1h-1zM1 237h1v1h-1zM2 238h1v1h-1zM6 238h1v1h-1zM4 240h1v1h-1zM1 241h1v1h-1zM5 241h1v1h-1zM2 242h1v1h-1zM6 242h1v1h-1zM7 243h1v1h-1zM0 244h1v1h-1zM1 245h1v1h-1zM5 245h1v1h-1zM2 246h1v1h-1zM6 246h1v1h-1zM1 249h1v1h-1zM5 249h1v1h-1zM2 250h1v1h-1zM7 251h1v1h-1zM1 253h1v1h-1zM5 253h1v1h-1zM6 254h1v1h-1zM3 255h1v1h-1zM1 257h1v1h-1zM5 257h1v1h-1z" fill="#6666cc"/>
<path d="M2 227h1v1h-1zM2 228h1v1h-1zM6 228h1v1h-1zM0 229h1v1h-1zM2 231h1v1h-1zM6 231h1v1h-1zM2 232h1v1h-1zM6 232h1v1h-1zM0 233h1v1h-1zM4 233h1v1h-1zM0 234h1v1h-1zM4 234h1v1h-1zM0 235h1v1h-1zM2 235h1v1h-1zM4 235h1v1h-1zM6 235h1v1h-1zM2 236h1v1h-1zM6 236h1v1h-1zM0 237h1v1h-1zM2 237h1v1h-1zM4 237h1v1h-1zM6 237h1v1h-1zM0 238h1v1h-1zM4 238h2v1h-2zM0 239h1v1h-1zM2 239h1v1h-1zM4 239h1v1h-1zM6 239h1v1h-1zM0 240h1v1h-1zM2 240h1v1h-1zM6 240h1v1h-1zM0 241h1v1h-1zM2 241h1v1h-1zM4 241h1v1h-1zM6 241h1v1h-1zM0 242h2v1h-2zM4 242h2v1h-2zM0 243h1v1h-1zM2 243h1v1h-1zM4 243h1v1h-1zM6 243h1v1h-1zM2 244h3v1h-3zM6 244h2v1h-2zM0 245h1v1h-1zM2 245h1v1h-1zM4 245h1v1h-1zM6 245h1v1h-1zM0 246h2v1h-2zM3 246h3v1h-3zM7 246h1v1h-1zM0 247h1v1h-1zM2 247h1v1h-1zM4 247h1v1h-1zM6 247h1v1h-1zM0 248h5v1h-5zM6 248h2v1h-2zM0 249h1v1h-1zM2 249h1v1h-1zM4 249h1v1h-1zM6 249h1v1h-1zM0 250h2v1h-2zM3 250h5v1h-5zM0 251h1v1h-1zM2 251h1v1h-1zM4 251h1v1h-1zM6 251h1v1h-1zM0 252h8v1h-8zM0 253h1v1h-1zM2 253h1v1h-1zM4 253h1v1h-1zM6 253h1v1h-1zM0 254h6v1h-6zM7 254h1v1h-1zM0 255h1v1h-1zM2 255h1v1h-1zM4 255h1v1h-1zM6 255h1v1h-1zM0 256h8v1h-8zM0 257h1v1h-1zM2 257h1v1h-1zM4 257h1v1h-1zM6 257h1v1h-1zM0 258h8v1h-8zM0 259h1v1h-1zM2 259h1v1h-1zM4 259h1v1h-1zM6 259h1v1h-1zM0 260h8v1h-8zM0 261h1v1h-1zM2 261h1v1h-1zM4 261h1v1h-1zM6 261h1v1h-1zM0 262h8v1h-8zM0 263h1v1h-1zM2 263h1v1h-1zM4 263h1v1h-1zM6 263h1v1h-1zM0 264h8v1h-8zM0 265h1v1h-1zM2 265h1v1h-1zM4 265h1v1h-1zM6 265h1v1h-1zM0 266h2v1h-2zM3 266h3v1h-3zM7 266h1v1h-1zM0 267h1v1h-1zM2 267h1v1h-1zM4 267h1v1h-1zM6 267h1v1h-1zM1 268h7v1h-7zM0 269h1v1h-1zM2 269h1v1h-1zM4 269h1v1h-1zM6 269h1v1h-1zM1 270h1v1h-1zM3 270h3v1h-3zM7 270h1v1h-1zM0 271h1v1h-1zM2 271h1v1h-1zM4 271h1v1h-1zM6 271h1v1h-1zM1 272h3v1h-3zM5 272h3v1h-3zM0 273h1v1h-1zM2 273h1v1h-1zM4 273h1v1h-1zM6 273h1v1h-1zM1 274h1v1h-1zM3 274h1v1h-1zM5 274h1v1h-1zM7 274h1v1h-1zM0 275h1v1h-1zM2 275h1v1h-1zM4 275h1v1h-1zM6 275h1v1h-1zM1 276h1v1h-1zM3 276h1v1h-1zM5 276h1v1h-1zM7 276h1v1h-1zM0 277h1v1h-1zM2 277h1v1h-1zM4 277h1v1h-1zM6 277h1v1h-1zM1 278h1v1h-1zM3 278h1v1h-1zM5 278h1v1h-1zM7 278h1v1h-1zM0 279h1v1h-1zM2 279h1v1h-1zM4 279h1v1h-1zM1 280h1v1h-1zM3 280h1v1h-1zM5 280h1v1h-1zM7 280h1v1h-1zM0 281h1v1h-1zM2 281h1v1h-1zM4 281h1v1h-1zM6 281h1v1h-1zM1 282h1v1h-1zM3 282h1v1h-1zM5 282h1v1h-1zM7 282h1v1h-1zM0 283h1v1h-1zM4 283h1v1h-1zM1 284h1v1h-1zM3 284h1v1h-1zM5 284h1v1h-1zM7 284h1v1h-1zM2 285h1v1h-1zM6 285h1v1h-1zM1 286h1v1h-1zM3 286h1v1h-1zM5 286h1v1h-1zM7 286h1v1h-1zM1 288h1v1h-1zM3 288h1v1h-1zM5 288h1v1h-1zM7 288h1v1h-1zM2 289h1v1h-1zM6 289h1v1h-1zM1 290h1v1h-1zM3 290h1v1h-1zM5 290h1v1h-1zM7 290h1v1h-1zM1 292h1v1h-1zM3 292h1v1h-1zM5 292h1v1h-1zM7 292h1v1h-1zM1 294h1v1h-1zM3 294h1v1h-1zM7 294h1v1h-1zM1 296h1v1h-1zM3 296h1v1h-1zM5 296h1v1h-1zM7 296h1v1h-1zM3 298h1v1h-1zM5 298h1v1h-1zM7 298h1v1h-1zM1 300h1v1h-1zM3 300h1v1h-1zM5 300h1v1h-1zM3 302h1v1h-1zM7 302h1v1h-1zM1 304h1v1h-1zM5 304h1v1h-1zM7 304h1v1h-1zM3 306h1v1h-1zM7 306h1v1h-1zM1 308h1v1h-1zM5 308h1v1h-1zM3 310h1v1h-1zM1 312h1v1h-1zM5 312h1v1h-1zM1 316h1v1h-1zM5 320h1v1h-1z" fill="#6666ff"/>
<path d="M1 251h1v1h-1zM7 253h1v1h-1zM1 255h1v1h-1zM5 255h1v1h-1zM3 257h1v1h-1zM7 257h1v1h-1zM1 259h1v1h-1zM5 259h1v1h-1zM3 261h1v1h-1zM7 261h1v1h-1zM1 263h1v1h-1zM5 263h1v1h-1zM3 265h1v1h-1zM1 267h1v1h-1zM5 267h1v1h-1zM3 269h1v1h-1zM7 269h1v1h-1zM1 271h1v1h-1zM5 271h1v1h-1zM3 273h1v1h-1zM1 275h1v1h-1zM5 275h1v1h-1zM7 277h1v1h-1zM1 279h1v1h-1zM5 279h1v1h-1zM1 283h1v1h-1zM5 283h1v1h-1zM7 285h1v1h-1zM1 287h1v1h-1zM5 287h1v1h-1zM1 291h1v1h-1zM5 291h1v1h-1zM1 295h1v1h-1zM5 295h1v1h-1zM1 299h1v1h-1zM5 303h1v1h-1zM1 307h1v1h-1zM5 311h1v1h-1z" fill="#3333cc"/>
<path d="M3 259h1v1h-1zM7 259h1v1h-1zM5 261h1v1h-1zM3 263h1v1h-1zM7 263h1v1h-1zM7 265h1v1h-1zM3 267h1v1h-1zM7 267h1v1h-1zM3 271h1v1h-1zM7 271h1v1h-1zM7 273h1v1h-1zM3 277h1v1h-1zM3 281h1v1h-1z" fill="#3366cc"/>
<path d="M1 261h1v1h-1zM1 265h1v1h-1zM5 265h1v1h-1zM2 266h1v1h-1zM6 266h1v1h-1zM0 268h1v1h-1zM1 269h1v1h-1zM5 269h1v1h-1zM0 270h1v1h-1zM2 270h1v1h-1zM6 270h1v1h-1zM0 272h1v1h-1zM4 272h1v1h-1zM1 273h1v1h-1zM5 273h1v1h-1zM0 274h1v1h-1zM2 274h1v1h-1zM4 274h1v1h-1zM6 274h1v1h-1zM3 275h1v1h-1zM7 275h1v1h-1zM0 276h1v1h-1zM2 276h1v1h-1zM4 276h1v1h-1zM6 276h1v1h-1zM1 277h1v1h-1zM5 277h1v1h-1zM0 278h1v1h-1zM2 278h1v1h-1zM4 278h1v1h-1zM6 278h1v1h-1zM3 279h1v1h-1zM6 279h2v1h-2zM0 280h1v1h-1zM2 280h1v1h-1zM4 280h1v1h-1zM6 280h1v1h-1zM1 281h1v1h-1zM5 281h1v1h-1zM7 281h1v1h-1zM0 282h1v1h-1zM2 282h1v1h-1zM4 282h1v1h-1zM6 282h1v1h-1zM2 283h2v1h-2zM6 283h2v1h-2zM0 284h1v1h-1zM2 284h1v1h-1zM4 284h1v1h-1zM6 284h1v1h-1zM0 285h2v1h-2zM3 285h3v1h-3zM0 286h1v1h-1zM2 286h1v1h-1zM4 286h1v1h-1zM6 286h1v1h-1zM0 287h1v1h-1zM2 287h3v1h-3zM6 287h2v1h-2zM0 288h1v1h-1zM2 288h1v1h-1zM4 288h1v1h-1zM6 288h1v1h-1zM0 289h2v1h-2zM3 289h3v1h-3zM7 289h1v1h-1zM0 290h1v1h-1zM2 290h1v1h-1zM4 290h1v1h-1zM6 290h1v1h-1zM0 291h1v1h-1zM2 291h3v1h-3zM6 291h2v1h-2zM0 292h1v1h-1zM2 292h1v1h-1zM4 292h1v1h-1zM6 292h1v1h-1zM0 293h8v1h-8zM0 294h1v1h-1zM2 294h1v1h-1zM4 294h3v1h-3zM0 295h1v1h-1zM2 295h3v1h-3zM6 295h2v1h-2zM0 296h1v1h-1zM2 296h1v1h-1zM4 296h1v1h-1zM6 296h1v1h-1zM0 297h8v1h-8zM0 298h3v1h-3zM4 298h1v1h-1zM6 298h1v1h-1zM0 299h1v1h-1zM2 299h6v1h-6zM0 300h1v1h-1zM2 300h1v1h-1zM4 300h1v1h-1zM6 300h2v1h-2zM0 301h8v1h-8zM0 302h3v1h-3zM4 302h3v1h-3zM0 303h5v1h-5zM6 303h2v1h-2zM0 304h1v1h-1zM2 304h3v1h-3zM6 304h1v1h-1zM0 305h8v1h-8zM0 306h3v1h-3zM4 306h3v1h-3zM0 307h1v1h-1zM2 307h6v1h-6zM0 308h1v1h-1zM2 308h3v1h-3zM6 308h2v1h-2zM0 309h8v1h-8zM0 310h3v1h-3zM4 310h4v1h-4zM0 311h5v1h-5zM6 311h2v1h-2zM0 312h1v1h-1zM2 312h3v1h-3zM6 312h2v1h-2zM0 313h8v1h-8zM0 314h8v1h-8zM0 315h8v1h-8zM0 316h1v1h-1zM2 316h6v1h-6zM0 317h8v1h-8zM0 318h8v1h-8zM0 319h8v1h-8zM0 320h5v1h-5zM6 320h2v1h-2zM0 321h8v1h-8z" fill="#3366ff"/>
</pattern>
</defs>
<rect x="0" y="0" width="970" height="584" fill="#fff"/>
<rect x="7" y="7" width="958" height="573" fill="#000"/>
<rect x="5" y="5" width="958" height="573" fill="#000"/>
<rect x="6" y="6" width="956" height="571" fill="#ffff99"/>
<rect x="6" y="6" width="956" height="571" fill="url(#dots)"/>
<rect x="99" y="128" width="832" height="322" fill="url(#pg)"/>
<rect x="99" y="128" width="832" height="322" fill="url(#dither)"/>
<pattern id="dh" x="0" y="0" width="2" height="1" patternUnits="userSpaceOnUse"><rect x="0" y="0" width="1" height="1" fill="#808080"/><rect x="1" y="0" width="1" height="1" fill="#c0c0c0"/></pattern>
<pattern id="dv" x="0" y="0" width="1" height="2" patternUnits="userSpaceOnUse"><rect x="0" y="0" width="1" height="1" fill="#808080"/><rect x="0" y="1" width="1" height="1" fill="#c0c0c0"/></pattern>
<rect x="99" y="127" width="833" height="1" fill="url(#dh)"/>
<pattern id="dh2" x="0" y="0" width="2" height="1" patternUnits="userSpaceOnUse"><rect x="0" y="0" width="1" height="1" fill="#808080"/><rect x="1" y="0" width="1" height="1" fill="#ffff99"/></pattern>
<rect x="99" y="450" width="833" height="1" fill="url(#dh2)"/>
<rect x="931" y="127" width="1" height="324" fill="url(#dv)"/>
<rect x="92" y="127" width="12" height="1" fill="#000"/>
<rect x="92" y="450" width="12" height="1" fill="#000"/>
<rect x="92" y="127" width="7" height="1" fill="#000"/>
<rect x="99" y="145" width="832" height="1" fill="#000"/>
<rect x="92" y="145" width="7" height="1" fill="#000"/>
<rect x="99" y="163" width="832" height="1" fill="#000"/>
<rect x="92" y="163" width="7" height="1" fill="#000"/>
<rect x="99" y="181" width="832" height="1" fill="#000"/>
<rect x="92" y="181" width="7" height="1" fill="#000"/>
<rect x="99" y="199" width="832" height="1" fill="#000"/>
<rect x="92" y="199" width="7" height="1" fill="#000"/>
<rect x="99" y="217" width="832" height="1" fill="#000"/>
<rect x="92" y="217" width="7" height="1" fill="#000"/>
<rect x="99" y="235" width="832" height="1" fill="#000"/>
<rect x="92" y="235" width="7" height="1" fill="#000"/>
<rect x="99" y="253" width="832" height="1" fill="#000"/>
<rect x="92" y="253" width="7" height="1" fill="#000"/>
<rect x="99" y="271" width="832" height="1" fill="#000"/>
<rect x="92" y="271" width="7" height="1" fill="#000"/>
<rect x="99" y="289" width="832" height="1" fill="#000"/>
<rect x="92" y="289" width="7" height="1" fill="#000"/>
<rect x="99" y="306" width="832" height="1" fill="#000"/>
<rect x="92" y="306" width="7" height="1" fill="#000"/>
<rect x="99" y="324" width="832" height="1" fill="#000"/>
<rect x="92" y="324" width="7" height="1" fill="#000"/>
<rect x="99" y="342" width="832" height="1" fill="#000"/>
<rect x="92" y="342" width="7" height="1" fill="#000"/>
<rect x="99" y="360" width="832" height="1" fill="#000"/>
<rect x="92" y="360" width="7" height="1" fill="#000"/>
<rect x="99" y="378" width="832" height="1" fill="#000"/>
<rect x="92" y="378" width="7" height="1" fill="#000"/>
<rect x="99" y="396" width="832" height="1" fill="#000"/>
<rect x="92" y="396" width="7" height="1" fill="#000"/>
<rect x="99" y="414" width="832" height="1" fill="#000"/>
<rect x="92" y="414" width="7" height="1" fill="#000"/>
<rect x="99" y="432" width="832" height="1" fill="#000"/>
<rect x="92" y="432" width="7" height="1" fill="#000"/>
<rect x="92" y="450" width="7" height="1" fill="#000"/>
<rect x="125" y="128" width="1" height="322" fill="#000"/>
<rect x="152" y="128" width="1" height="322" fill="#000"/>
<rect x="179" y="128" width="1" height="322" fill="#000"/>
<rect x="206" y="128" width="1" height="322" fill="#000"/>
<rect x="232" y="128" width="1" height="322" fill="#000"/>
<rect x="259" y="128" width="1" height="322" fill="#000"/>
<rect x="286" y="128" width="1" height="322" fill="#000"/>
<rect x="313" y="128" width="1" height="322" fill="#000"/>
<rect x="340" y="128" width="1" height="322" fill="#000"/>
<rect x="367" y="128" width="1" height="322" fill="#000"/>
<rect x="394" y="128" width="1" height="322" fill="#000"/>
<rect x="421" y="128" width="1" height="322" fill="#000"/>
<rect x="447" y="128" width="1" height="322" fill="#000"/>
<rect x="474" y="128" width="1" height="322" fill="#000"/>
<rect x="501" y="128" width="1" height="322" fill="#000"/>
<rect x="528" y="128" width="1" height="322" fill="#000"/>
<rect x="555" y="128" width="1" height="322" fill="#000"/>
<rect x="582" y="128" width="1" height="322" fill="#000"/>
<rect x="609" y="128" width="1" height="322" fill="#000"/>
<rect x="636" y="128" width="1" height="322" fill="#000"/>
<rect x="662" y="128" width="1" height="322" fill="#000"/>
<rect x="689" y="128" width="1" height="322" fill="#000"/>
<rect x="716" y="128" width="1" height="322" fill="#000"/>
<rect x="743" y="128" width="1" height="322" fill="#000"/>
<rect x="770" y="128" width="1" height="322" fill="#000"/>
<rect x="797" y="128" width="1" height="322" fill="#000"/>
<rect x="824" y="128" width="1" height="322" fill="#000"/>
<rect x="851" y="128" width="1" height="322" fill="#000"/>
<rect x="877" y="128" width="1" height="322" fill="#000"/>
<rect x="904" y="128" width="1" height="322" fill="#000"/>
<rect x="98" y="127" width="1" height="324" fill="#000"/>
<rect x="112" y="307" width="1" height="4" fill="#000"/>
<rect x="138" y="307" width="1" height="4" fill="#000"/>
<rect x="165" y="307" width="1" height="4" fill="#000"/>
<rect x="192" y="307" width="1" height="4" fill="#000"/>
<rect x="219" y="307" width="1" height="4" fill="#000"/>
<rect x="246" y="307" width="1" height="4" fill="#000"/>
<rect x="273" y="307" width="1" height="4" fill="#000"/>
<rect x="300" y="307" width="1" height="4" fill="#000"/>
<rect x="327" y="307" width="1" height="4" fill="#000"/>
<rect x="353" y="307" width="1" height="4" fill="#000"/>
<rect x="380" y="307" width="1" height="4" fill="#000"/>
<rect x="407" y="307" width="1" height="4" fill="#000"/>
<rect x="434" y="307" width="1" height="4" fill="#000"/>
<rect x="461" y="307" width="1" height="4" fill="#000"/>
<rect x="488" y="307" width="1" height="4" fill="#000"/>
<rect x="515" y="307" width="1" height="4" fill="#000"/>
<rect x="541" y="307" width="1" height="4" fill="#000"/>
<rect x="568" y="307" width="1" height="4" fill="#000"/>
<rect x="595" y="307" width="1" height="4" fill="#000"/>
<rect x="622" y="307" width="1" height="4" fill="#000"/>
<rect x="649" y="307" width="1" height="4" fill="#000"/>
<rect x="676" y="307" width="1" height="4" fill="#000"/>
<rect x="703" y="307" width="1" height="4" fill="#000"/>
<rect x="730" y="307" width="1" height="4" fill="#000"/>
<rect x="756" y="307" width="1" height="4" fill="#000"/>
<rect x="783" y="307" width="1" height="4" fill="#000"/>
<rect x="810" y="307" width="1" height="4" fill="#000"/>
<rect x="837" y="307" width="1" height="4" fill="#000"/>
<rect x="864" y="307" width="1" height="4" fill="#000"/>
<rect x="891" y="307" width="1" height="4" fill="#000"/>
<rect x="918" y="307" width="1" height="4" fill="#000"/>
<polyline points="98.8,262.5 102.2,271.6 105.5,284.9 108.8,266.6 112.6,246.1 115.4,273.3 118.8,289.1 122.9,295.7 127.1,300.7 131.2,295.7 134.5,292.4 137.0,279.9 139.2,270.0 141.5,273.3 143.7,286.6 146.2,295.7 148.7,299.0 151.5,308.2 154.1,299.0 156.1,314.8 159.8,325.6 161.1,304.8 162.5,271.6 165.3,250.2 167.4,256.7 171.1,265.8 175.2,271.6 178.6,279.1 180.6,267.5 184.4,262.5 187.7,260.0 191.0,242.7 194.0,233.6 197.7,232.8 201.0,227.0 204.3,217.8 206.0,214.5 207.6,206.2 212.6,192.9 217.6,209.5 220.1,205.4 225.9,204.9" fill="none" stroke="#00ffff" stroke-width="2" stroke-linejoin="round" stroke-linecap="square" shape-rendering="crispEdges"/>
<polyline points="232.8,204.7 234.2,212.4 236.2,217.4 237.8,226.2 239.1,215.7 240.3,213.8 241.6,212.4 242.7,194.8 244,188.7 246.8,188.7 247.3,204.7 248.5,214.6 250,222.8 251.3,220.8" fill="none" stroke="#00ffff" stroke-width="2" stroke-linejoin="round" stroke-linecap="square" shape-rendering="crispEdges"/>
<polyline points="258.9,218 260.8,227.6 261.8,217.4 264.3,213.2 266.8,217.3 268.6,215 269.8,189.5 271.2,183.3 272.6,180 274.8,170 276.3,176 277.3,181.6 278.6,194.8 279.8,199.5 283.8,205.3 288,208.7 293.3,209.6 295.1,216.3 296.3,221.5 299.2,219.8 302.5,219 307.2,223.1 312.2,229.8 316.3,235.6 319.6,239.7 323,228.1 324.6,213.2 327.9,198.2 330.4,208.2 332.9,231.4 334.3,242 335.6,231.4 338.7,226.4 342.1,228.9 345.4,231.4 347.9,236.4 350.4,226.4 352,201.5 354.2,180.8 356.2,192.4 358.7,204.9 360.3,226.4 362,228.1 364.5,243 367.8,231.4 369.5,239.7 372,247.2 374.4,241.4 376.9,229.8 378.9,214.8 381.9,204.9 384.4,210.7 387.7,219 391.9,221.5 396.9,223.1 400.2,220.6 401.9,225.6 405.2,219.8 406.8,208.2 409,188.2 411,195.7 412.7,209.8 415.1,212.3 420,210.7 422.5,211.5 423.7,224.8 424.7,238.1 427.5,239.8 429.1,236.4 430.8,223.2 433,204.9 434.6,199.9 436.2,205 438.7,209.5 440.3,233 441.6,246.4 443.3,247.2 445.2,241.4 447.4,249.7 449.6,256.4 451.2,257.5 453.2,268.2 454.9,279 456.9,271.5 458.5,241.4 460.2,224 461.2,219.5 461.9,226.5 462.9,214 463.8,226.5 464.6,221 465.7,236.4 467.3,255 469,271.5 472.3,279.9 473.5,257 475.6,246.5 477.3,219.8 479.5,213.2 481.8,209 483.1,218.2 485.1,233.1 487.3,239.8 488.9,248.1 490.6,244.7 492.8,242.3" fill="none" stroke="#00ffff" stroke-width="2" stroke-linejoin="round" stroke-linecap="square" shape-rendering="crispEdges"/>
<polyline points="502.2,243.1 503.9,251.4 506.4,242.3 508,248 510.7,241.4 512.3,219.8 513.4,194.5 515.3,191 517,186.3 518.2,191.5 519.4,194 520.5,218.2 521.8,233.1 523.8,238.9 526.3,231.5 527.6,226.5 529.6,234 531.6,228.1 533.3,224 535.4,227.3 537.9,216.5 542.1,215.7 543.8,193.3 545.4,200.7 549.9,201.2 550.9,219.8 552.1,224.8 555.4,219.8 557,226.5 561.2,224 563.2,231.5 564.9,219.8 567,203.2 568.7,186.6 570,181.6 572,186.6 573.7,194.9 574.5,219.8 577,228.1 581,226.5 583,225.6 585.2,232.3 588.5,229.8 591,231.5 592.6,218.2 594.6,203.2 596.8,200.7 598.9,203.2 600.1,218.2 601.8,233.1 603.4,241.4 605.6,243.1 607.2,236.4 609.6,235.6 611.7,232.3 613.4,243.1 614.8,257 616.7,254.7 618.4,236.4 620,216.5 621.7,193.3 623.4,189.9 625,194.9 626.2,211.5 628.3,226.5 629.5,248.1 631.2,241.4 632.8,256.4 635.8,258.3 638.3,263 640.8,266.6 643.3,271.6 645,253.1 645.8,219.8 647.4,199.9 649.1,185 649.9,177.5 650.8,189.9 652.4,206.5 654.1,221.5 655.7,239.8 657.1,256.4 658.7,246.4 660.4,259.7 662.3,275 663.4,280 665.5,266.5 668.2,275.5 670.7,283.2 672,251.5 672.7,236.4 674.4,239.8 675.4,219.8 676.5,201.6 679,194.9 680.3,205.7 682.3,218.2 684.8,228.1 686.5,236.4 689,240 692.3,240.5 694.6,242.5 695.8,256.4 696.9,260.7 698.6,249.2 700.6,246.7 702.7,251.7 705.2,246.7 706.4,245.9 707.6,252.5 709.7,260 712.2,266.6 714.7,274.9 716.4,279.9 719.7,283.2 722.2,285.7 724.7,291.5 726.3,274.9 727.5,258.3 728.8,248.1 730.5,239.8 731.8,236.4 733.5,244.7 735.5,258 737.1,265 739.6,270 742,274.9 745.3,270.7 748.6,269 750.3,279.8 752,266.5 753.6,241.6 754.8,230 756.1,223.1 758.6,213.1 760.3,218.1 761.9,228 762.8,241.6 764.4,255.7 766.1,244.9 768.2,240.8 771.1,247.4 775.2,253.2 778.2,262.4 779.9,244.9 781.5,232 782.7,223.1 784.4,213.1 786.5,210.6 788.2,219.7 789.8,233 790.4,241.6 791.5,253.2 792.7,243.3 794.3,233.3 795.8,229 798.5,235 800.5,241.6 802.6,253.2 804.8,248.3 806,233.3 806.5,219.7 807.6,201.5 808.4,183.2 809.3,168.2 810.1,153.3 811.8,147.5 813.1,155 814.3,164.9 815.1,176.5 816.8,189.8 818.4,203.1 819.2,223.1 820.1,203.1 821.4,224.7 822.6,199.8 823.4,229.7 824.2,201.5 825.5,237.5 827.5,226 828.4,219.7 830,221 831.6,235.8 833,226 833.7,206.4 835,196.5 836.4,194 838,199.8 840,209.8 841.7,218.1 843.3,228 844.2,235 846.7,241.6 849.1,246.6 850.8,258.2 853.3,265.7 855.8,274.8 857.9,293.1 859.6,278.2 860.3,241.6 861.6,235 863.3,223.1 865.3,211.4 866.9,204.8 868.6,208.1 869.6,223.1 870.7,241.6 872.4,255.7 874.9,259.1 877.4,260.7 879.9,264.9 882.4,269.9 884.5,273.2 886.2,280.6 887.3,258.2 888.2,230 889,206.4 890.7,194.8 892.3,189.8 893.7,186.5 895.2,193.2 896.2,206.4 897.3,223.1 899,235 901.1,239.1 903,240.8 904.7,249.2 905.7,257.5 907.7,263.6 910.8,263.6 912.5,255.4 914.5,226.6 916.6,199.9 918.6,185.5 920.5,177.3 922.1,185.5 923.6,206.1 925.6,224.6 928.3,232.8 930.3,240" fill="none" stroke="#00ffff" stroke-width="2" stroke-linejoin="round" stroke-linecap="square" shape-rendering="crispEdges"/>
<polyline points="98.8,284.9 101.3,290.7 103.8,298.2 108.8,303.2 111.3,314.8 114.3,346.4 117.1,337.2 119.6,317.3 122.9,320.6 127.1,319.0 130.4,320.6 133.7,319.0 137.4,311.5 139.5,319.0 141.5,328.1 144.5,319.8 147.5,319.0 150.3,324.8 152.8,333.1 156.1,344.7 159.8,347.2 161.1,333.1 163.6,318.1 165.3,327.3 166.4,311.5 169.4,303.2 173.6,298.2 176.1,301.5 178.6,308.2 181.1,299.9 184.4,288.2 187.7,271.6 191.0,253.5 194.3,246.1 197.7,240.2 201.0,232.8 204.3,224.5 206.8,210.3 208.5,216.2 212.6,212.0 215.9,216.2 217.9,225.3 220.1,212.8 225.6,212.5" fill="none" stroke="#ff00ff" stroke-width="2" stroke-linejoin="round" stroke-linecap="square" shape-rendering="crispEdges"/>
<polyline points="232.5,212.4 234.2,221.5 236.2,232.2 238.7,238 240.8,247 242,233 244,229 247.4,233.9 248.2,246.2 249,247.5 251.5,245.4" fill="none" stroke="#ff00ff" stroke-width="2" stroke-linejoin="round" stroke-linecap="square" shape-rendering="crispEdges"/>
<polyline points="258.9,245.4 261,251.2 261.8,243.8 264.3,239.6 267.6,242.9 269.2,236.3 270.5,224.8 272.5,220.7 274.2,225.6 275.8,221.5 277.3,214 278.7,221.5 279.5,226.4 282.4,227.3 284.9,221.9 290.7,221.5 292.7,218.2 294.4,221.5 296,226.4 298.9,222.7 302.2,221.9 307.2,224 312.2,231.4 316.3,236.4 318.8,248 321.3,239.7 323,248 324.6,229.8 327.1,233.1 329.6,239.7 332.1,234.7 334.6,248 337.1,238.1 340.4,238.1 343.7,243 347,251.4 351.2,246.4 353.7,236.4 355.3,246.4 357,236.4 360.3,243 363.7,253 367,246.4 369.5,249.7 372,256.3 375.3,241.4 377.8,226.4 381.9,223.1 386.9,226.4 391.9,230.6 396.9,231.4 401,233.1 404.3,228.1 407.7,223.1 413.5,224 420,224.8 422.5,225.6 423.5,242 426.6,258.3 430.8,253.3 432.5,268.2 434.1,289 436.6,274.9 439.1,283.2 441.6,270.7 444.9,274.9 449.9,270.7 452.4,279.9 454.9,289.8 457.4,279.9 459.9,270.7 462.4,274.9 464.9,283.2 467.3,286.5 469.8,292.3 473.2,293.1 474.3,259.9 476.5,245 479.8,247.8 482.8,245.3 485.6,254 488.1,261.5 490,253.2 492.3,249.8" fill="none" stroke="#ff00ff" stroke-width="2" stroke-linejoin="round" stroke-linecap="square" shape-rendering="crispEdges"/>
<polyline points="503.1,252.3 505.5,258.2 507.7,269.1 509.7,259.9 512.5,251.5 514.7,258.3 517.2,261.6 519.3,280.7 521.3,259.9 523.8,269.9 526.3,263.2 528.8,256.6 530.5,240 531.6,236 533.8,232.3 537.9,235.6 542.9,236.4 544.9,231.5 547.9,235.6 551.2,229.8 554.6,232.3 557.9,229 562.9,235.6 565.3,224.8 568.2,222.3 570.3,228.1 572.8,238.1 575.3,231.5 577.8,241.4 579.5,231.5 581,229.8 583.5,231.5 586,239.8 588.5,244.7 591,241.4 593.5,235.6 596,241.4 598.4,239.8 601.8,244.7 603.4,251.4 606.7,250.5 608.4,266.6 610.1,276.6 613.4,284.9 615.9,276.6 617.9,266.6 619.5,256.6 621.7,273.3 623.4,258.3 625,244.7 626.7,254.7 628.3,260 629.2,268.3 630.8,260 633.3,274.9 636.6,270.8 639.1,272.4 641.6,283.2 643.8,290.7 645,274.9 646.6,256.5 649.1,248.1 650.8,239.8 652.2,236.4 654.1,243.1 655.7,258.2 657.7,266.6 659.9,268.5 661.6,281.6 664.1,283.2 665.7,279.9 667.4,288.2 670.7,292.4 672,271.6 672.4,252 673.8,244 675.5,241 677.3,243.1 679,253.5 680.7,243.1 683.2,236.4 685.6,239.8 688.1,243.1 691.5,244.5 694,244 695.3,262 695.8,275 698.1,276.6 699.8,286.5 702.3,296.5 703.9,308.1 705.6,319.8 708.9,326.4 711.4,333.9 713.9,326.4 716.9,320.6 719.7,323.1 723.9,325.6 726.3,316.4 728.5,303.2 730.5,313.1 733,303.2 735.5,298.2 738,305.6 740.5,298.2 742,299.8 744.5,301.4 746.2,309.7 748.6,308.1 750,318.3 752,330.7 753.6,316.6 754.5,299.8 756.1,274 757.8,288.1 759.4,320 760.3,334 761.1,305 761.3,291.4 763.6,283.1 766.1,293.1 768.6,301.4 771.1,291.4 773.6,284.8 775.2,281.5 777.7,290.6 779.4,281.5 781,272.3 782.7,283.1 784.4,291.4 786,302.2 787.7,291.4 789.3,281.5 791,279.8 791.8,294.8 792.3,321.6 793.2,341.5 793.5,366.4 794.6,376.8 796.3,381.1 797.1,388 798.5,398.2 800.2,405 801.9,412 804,415.3 804.8,425.6 806,433.3 807.1,422.2 807.4,405 808.3,379.4 809.5,371.7 810.5,384.5 811.2,398.2 812.2,382.8 812.8,357.1 813,326.6 813.8,340 815.1,354.8 816.8,359.8 818.4,354.8 820.1,369.8 821.7,351.5 823.4,366.4 824.7,348.2 826.7,332.4 828.4,344.9 829.7,351.5 830.9,336.5 832.5,333.2 833.4,316.6 834.4,291.4 835.9,274.8 836.7,268.2 838,283.1 840,288.1 841.7,284.8 843.3,296.4 845,291.4 846.7,299.8 848.3,306.5 850,313.5 851.6,328.2 854.1,324.9 856.6,329.9 858.3,324.9 860.3,311.6 861.5,311.6 862.4,321.6 864.1,328.2 865.8,336.5 867.4,345.7 868.6,333.2 869.6,316.6 870.9,310.5 872.4,303.1 874.1,298.1 875.7,304.7 878.2,307.2 881.5,308.1 884,301.4 885.7,304.7 887.3,283.1 889,276.5 890.7,273.2 892.3,281.5 894,273.2 895.7,259.9 898.1,257.4 900.6,252.4 903,248.3 903.6,255.4 905.1,261.6 907.7,267.7 910.8,269.8 912.5,276 913.9,259.5 916,247.2 918,253.4 920.1,271.8 922.7,242 925.2,253.4 927.7,255.4 930.3,258.5" fill="none" stroke="#ff00ff" stroke-width="2" stroke-linejoin="round" stroke-linecap="square" shape-rendering="crispEdges"/>
<g shape-rendering="auto" text-rendering="geometricPrecision">
<text x="481" y="37" font-size="18" text-anchor="middle" textLength="98" lengthAdjust="spacing" stroke="#000" stroke-width="0.15">Temperature</text>
</g>
<rect x="286" y="81" width="385" height="18" fill="#000"/>
<rect x="287" y="82" width="383" height="16" fill="#fff"/>
<rect x="319" y="90" width="27" height="2" fill="#00ffff"/>
<rect x="481" y="90" width="28" height="2" fill="#ff00ff"/>
<g shape-rendering="auto">
<text x="348" y="95" font-size="12" font-weight="bold" textLength="72" lengthAdjust="spacing">Temperatura</text>
<text x="511" y="95" font-size="12" font-weight="bold" textLength="131" lengthAdjust="spacing">Temperatura di rugiada</text>
<text x="83.2" y="132.7" font-size="16.6" font-weight="bold" text-anchor="end">20,0</text>
<text x="83.2" y="150.7" font-size="16.6" font-weight="bold" text-anchor="end">18,0</text>
<text x="83.2" y="168.7" font-size="16.6" font-weight="bold" text-anchor="end">16,0</text>
<text x="83.2" y="186.7" font-size="16.6" font-weight="bold" text-anchor="end">14,0</text>
<text x="83.2" y="204.7" font-size="16.6" font-weight="bold" text-anchor="end">12,0</text>
<text x="83.2" y="222.7" font-size="16.6" font-weight="bold" text-anchor="end">10,0</text>
<text x="83.2" y="240.7" font-size="16.6" font-weight="bold" text-anchor="end">8,0</text>
<text x="83.2" y="258.7" font-size="16.6" font-weight="bold" text-anchor="end">6,0</text>
<text x="83.2" y="276.7" font-size="16.6" font-weight="bold" text-anchor="end">4,0</text>
<text x="83.2" y="294.7" font-size="16.6" font-weight="bold" text-anchor="end">2,0</text>
<text x="83.2" y="311.7" font-size="16.6" font-weight="bold" text-anchor="end">0,0</text>
<text x="83.2" y="329.7" font-size="16.6" font-weight="bold" text-anchor="end">-2,0</text>
<text x="83.2" y="347.7" font-size="16.6" font-weight="bold" text-anchor="end">-4,0</text>
<text x="83.2" y="365.7" font-size="16.6" font-weight="bold" text-anchor="end">-6,0</text>
<text x="83.2" y="383.7" font-size="16.6" font-weight="bold" text-anchor="end">-8,0</text>
<text x="83.2" y="401.7" font-size="16.6" font-weight="bold" text-anchor="end">-10,0</text>
<text x="83.2" y="419.7" font-size="16.6" font-weight="bold" text-anchor="end">-12,0</text>
<text x="83.2" y="437.7" font-size="16.6" font-weight="bold" text-anchor="end">-14,0</text>
<text x="83.2" y="455.7" font-size="16.6" font-weight="bold" text-anchor="end">-16,0</text>
<text transform="translate(35.4,300) rotate(-90)" font-size="18" stroke="#000" stroke-width="0.2">° C</text>
<text transform="translate(101.6,463.9) rotate(-90)" font-size="16" font-weight="bold" text-anchor="end" letter-spacing="0.65">1-gen-08</text>
<text transform="translate(128.5,463.9) rotate(-90)" font-size="16" font-weight="bold" text-anchor="end" letter-spacing="0.65">2-gen-08</text>
<text transform="translate(155.4,463.9) rotate(-90)" font-size="16" font-weight="bold" text-anchor="end" letter-spacing="0.65">3-gen-08</text>
<text transform="translate(182.2,463.9) rotate(-90)" font-size="16" font-weight="bold" text-anchor="end" letter-spacing="0.65">4-gen-08</text>
<text transform="translate(209.1,463.9) rotate(-90)" font-size="16" font-weight="bold" text-anchor="end" letter-spacing="0.65">5-gen-08</text>
<text transform="translate(236.0,463.9) rotate(-90)" font-size="16" font-weight="bold" text-anchor="end" letter-spacing="0.65">6-gen-08</text>
<text transform="translate(262.8,463.9) rotate(-90)" font-size="16" font-weight="bold" text-anchor="end" letter-spacing="0.65">7-gen-08</text>
<text transform="translate(289.7,463.9) rotate(-90)" font-size="16" font-weight="bold" text-anchor="end" letter-spacing="0.65">8-gen-08</text>
<text transform="translate(316.6,463.9) rotate(-90)" font-size="16" font-weight="bold" text-anchor="end" letter-spacing="0.65">9-gen-08</text>
<text transform="translate(343.5,463.9) rotate(-90)" font-size="16" font-weight="bold" text-anchor="end" letter-spacing="0.65">10-gen-08</text>
<text transform="translate(370.3,463.9) rotate(-90)" font-size="16" font-weight="bold" text-anchor="end" letter-spacing="0.65">11-gen-08</text>
<text transform="translate(397.2,463.9) rotate(-90)" font-size="16" font-weight="bold" text-anchor="end" letter-spacing="0.65">12-gen-08</text>
<text transform="translate(424.1,463.9) rotate(-90)" font-size="16" font-weight="bold" text-anchor="end" letter-spacing="0.65">13-gen-08</text>
<text transform="translate(450.9,463.9) rotate(-90)" font-size="16" font-weight="bold" text-anchor="end" letter-spacing="0.65">14-gen-08</text>
<text transform="translate(477.8,463.9) rotate(-90)" font-size="16" font-weight="bold" text-anchor="end" letter-spacing="0.65">15-gen-08</text>
<text transform="translate(504.7,463.9) rotate(-90)" font-size="16" font-weight="bold" text-anchor="end" letter-spacing="0.65">16-gen-08</text>
<text transform="translate(531.6,463.9) rotate(-90)" font-size="16" font-weight="bold" text-anchor="end" letter-spacing="0.65">17-gen-08</text>
<text transform="translate(558.4,463.9) rotate(-90)" font-size="16" font-weight="bold" text-anchor="end" letter-spacing="0.65">18-gen-08</text>
<text transform="translate(585.3,463.9) rotate(-90)" font-size="16" font-weight="bold" text-anchor="end" letter-spacing="0.65">19-gen-08</text>
<text transform="translate(612.2,463.9) rotate(-90)" font-size="16" font-weight="bold" text-anchor="end" letter-spacing="0.65">20-gen-08</text>
<text transform="translate(639.1,463.9) rotate(-90)" font-size="16" font-weight="bold" text-anchor="end" letter-spacing="0.65">21-gen-08</text>
<text transform="translate(665.9,463.9) rotate(-90)" font-size="16" font-weight="bold" text-anchor="end" letter-spacing="0.65">22-gen-08</text>
<text transform="translate(692.8,463.9) rotate(-90)" font-size="16" font-weight="bold" text-anchor="end" letter-spacing="0.65">23-gen-08</text>
<text transform="translate(719.7,463.9) rotate(-90)" font-size="16" font-weight="bold" text-anchor="end" letter-spacing="0.65">24-gen-08</text>
<text transform="translate(746.5,463.9) rotate(-90)" font-size="16" font-weight="bold" text-anchor="end" letter-spacing="0.65">25-gen-08</text>
<text transform="translate(773.4,463.9) rotate(-90)" font-size="16" font-weight="bold" text-anchor="end" letter-spacing="0.65">26-gen-08</text>
<text transform="translate(800.3,463.9) rotate(-90)" font-size="16" font-weight="bold" text-anchor="end" letter-spacing="0.65">27-gen-08</text>
<text transform="translate(827.2,463.9) rotate(-90)" font-size="16" font-weight="bold" text-anchor="end" letter-spacing="0.65">28-gen-08</text>
<text transform="translate(854.0,463.9) rotate(-90)" font-size="16" font-weight="bold" text-anchor="end" letter-spacing="0.65">29-gen-08</text>
<text transform="translate(880.9,463.9) rotate(-90)" font-size="16" font-weight="bold" text-anchor="end" letter-spacing="0.65">30-gen-08</text>
<text transform="translate(907.8,463.9) rotate(-90)" font-size="16" font-weight="bold" text-anchor="end" letter-spacing="0.65">31-gen-08</text>
</g>
</svg>
</body></html>
